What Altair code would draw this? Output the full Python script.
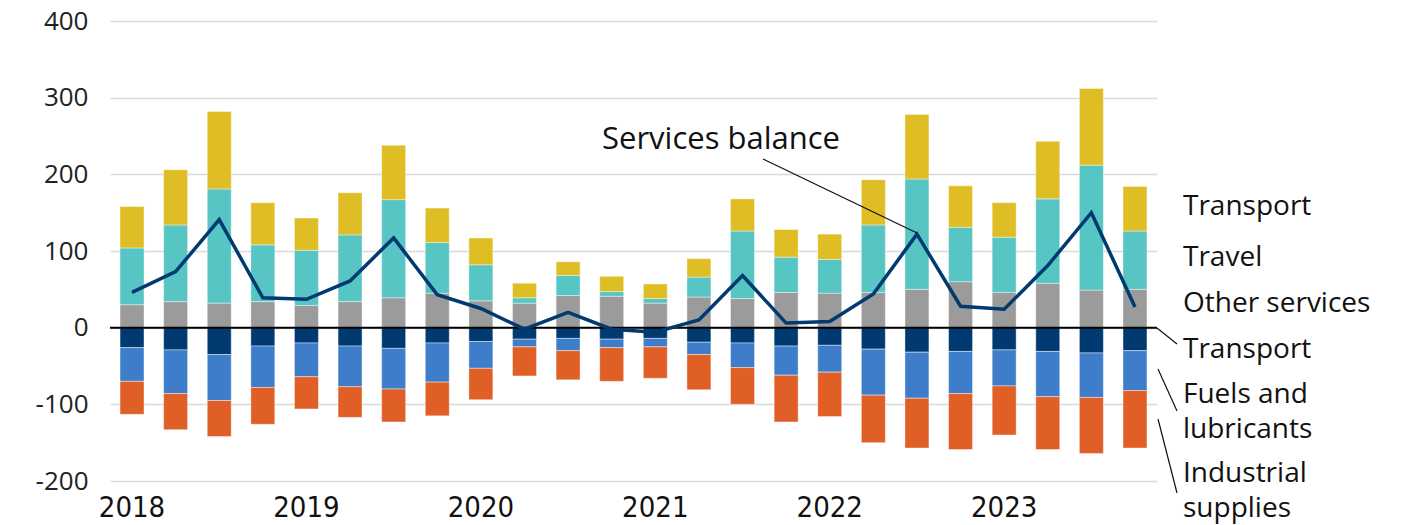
import altair as alt
import pandas as pd

quarters = [f"{y}Q{q}" for y in range(2018, 2024) for q in range(1, 5)]

other_services = [30, 34, 32, 34, 29, 34, 39, 45, 35, 32, 42, 41, 32, 40, 38, 46, 45, 46, 50, 60, 46, 58, 49, 50]
travel = [74, 100, 149, 74, 72, 87, 128, 66, 47, 7, 26, 6, 6, 26, 88, 46, 44, 88, 144, 71, 72, 110, 163, 76]
transport_credit = [54, 72, 101, 55, 42, 55, 71, 45, 35, 19, 18, 20, 19, 24, 42, 36, 33, 59, 84, 54, 45, 75, 100, 58]
transport_debit = [-26, -29, -35, -24, -20, -24, -27, -20, -18, -15, -14, -15, -14, -19, -20, -24, -23, -28, -32, -31, -29, -31, -33, -30]
fuels = [-44, -57, -60, -54, -44, -53, -53, -51, -35, -10, -16, -11, -11, -16, -32, -38, -35, -60, -60, -55, -47, -59, -58, -52]
industrial = [-43, -47, -47, -48, -42, -40, -43, -44, -41, -38, -38, -44, -41, -46, -48, -61, -58, -62, -65, -73, -64, -69, -73, -75]
balance = [46, 73, 141, 39, 37, 61, 117, 43, 25, -2, 20, -2, -6, 10, 68, 6, 8, 44, 122, 28, 24, 81, 150, 27]

series = [
    ("Other services", other_services, 0, "#9b9b9b"),
    ("Travel", travel, 1, "#56c5c3"),
    ("Transport (exports)", transport_credit, 2, "#dfbd24"),
    ("Transport (imports)", transport_debit, 0, "#003a70"),
    ("Fuels and lubricants", fuels, 1, "#3d7dca"),
    ("Industrial supplies", industrial, 2, "#e05f27"),
]

rows = []
for name, vals, order, _ in series:
    for q, v in zip(quarters, vals):
        rows.append({"q": q, "series": name, "value": v, "ord": order})
bars_df = pd.DataFrame(rows)
line_df = pd.DataFrame({"q": quarters, "balance": balance})

FONT = "Open Sans"
YEARFONT = "Liberation Sans Narrow, DejaVu Sans Condensed, sans-serif"

x_enc = alt.X(
    "q:O",
    sort=quarters,
    scale=alt.Scale(paddingInner=0.45, paddingOuter=0.23),
    axis=alt.Axis(
        title=None,
        labelExpr="slice(datum.value, 4) == 'Q1' ? slice(datum.value, 0, 4) : ''",
        labelAngle=0,
        ticks=False,
        domain=False,
        labelFont=YEARFONT,
        labelFontSize=29,
        labelColor="#111111",
        labelPadding=12,
        labelOverlap=False,
        grid=False,
    ),
)
y_scale = alt.Scale(domain=[-200, 400], nice=False, zero=False)
y_enc = alt.Y(
    "value:Q",
    scale=y_scale,
    axis=alt.Axis(
        title=None,
        values=[-200, -100, 0, 100, 200, 300, 400],
        labelExpr="toString(datum.value)",
        ticks=False,
        domain=False,
        grid=True,
        gridColor="#d9d9d9",
        gridWidth=1.5,
        labelFont=FONT,
        labelFontSize=26,
        labelColor="#222222",
        labelPadding=22,
    ),
)

bars = alt.Chart(bars_df).mark_bar(stroke="white", strokeWidth=0.6, strokeOpacity=0.7).encode(
    x=x_enc,
    y=y_enc,
    color=alt.Color(
        "series:N",
        scale=alt.Scale(domain=[s[0] for s in series], range=[s[3] for s in series]),
        legend=None,
    ),
    order=alt.Order("ord:Q", sort="ascending"),
)

zero = alt.Chart(pd.DataFrame({"v": [0]})).mark_rule(color="black", strokeWidth=2).encode(
    y=alt.Y("v:Q", scale=y_scale)
)

line = alt.Chart(line_df).mark_line(color="#003a70", strokeWidth=3.5).encode(
    x=alt.X("q:O", sort=quarters),
    y=alt.Y("balance:Q", scale=y_scale),
)

labels_df = pd.DataFrame({
    "text": ["Transport", "Travel", "Other services", "Transport", "Fuels and", "lubricants", "Industrial", "supplies"],
    "yv": [157, 91, 31, -29, -88, -133, -191, -237],
})
right_labels = alt.Chart(labels_df).mark_text(
    align="left", baseline="middle", font=FONT, fontSize=28, color="#111111"
).encode(
    x=alt.value(1073),
    y=alt.Y("yv:Q", scale=y_scale),
    text="text:N",
)

sb_text = alt.Chart(pd.DataFrame({"t": ["Services balance"], "yv": [245]})).mark_text(
    align="left", baseline="middle", font=FONT, fontSize=31, color="#111111"
).encode(
    x=alt.value(492),
    y=alt.Y("yv:Q", scale=y_scale),
    text="t:N",
)

leaders_df = pd.DataFrame({
    "x1": [653, 1047, 1048, 1048],
    "x2": [807, 1067, 1067, 1067],
    "y1": [138, 307, 348, 398],
    "y2": [212, 323, 390, 472],
})
leaders = alt.Chart(leaders_df).mark_rule(color="#111111", strokeWidth=1.2).encode(
    x=alt.X("x1:Q", scale=None),
    x2="x2:Q",
    y=alt.Y("y1:Q", scale=None),
    y2="y2:Q",
)

chart = alt.layer(bars, zero, line, right_labels, sb_text, leaders).properties(
    width=1047,
    height=460,
    autosize=alt.AutoSizeParams(type="none"),
    padding={"left": 102, "top": 13, "right": 255, "bottom": 44},
).configure(font=FONT).configure_view(stroke=None)

chart.save("out.html", embed_options={"renderer": "svg", "actions": False})
